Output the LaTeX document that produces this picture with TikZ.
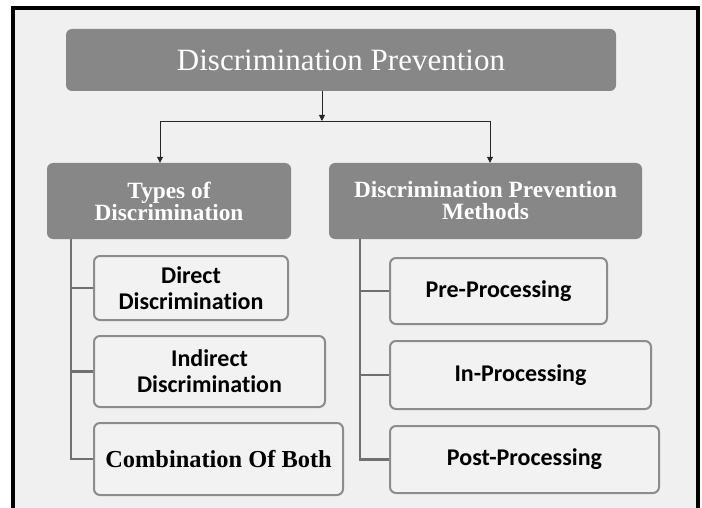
\documentclass[tikz,border=0pt]{standalone}
\usepackage{fontspec}
\setmainfont{Liberation Serif}
\newfontfamily\calfont[Ligatures={NoCommon}]{Carlito}
\usetikzlibrary{arrows.meta}
\definecolor{bgc}{HTML}{F0F0F0}
\definecolor{hdrgray}{HTML}{878787}
\definecolor{boxfill}{HTML}{F2F2F2}
\definecolor{boxline}{HTML}{8C8C8C}
\definecolor{spinec}{HTML}{707070}
\begin{document}
\begin{tikzpicture}[x=1pt,y=-1pt,
  hdr/.style={fill=hdrgray, rounded corners=6pt, text=white, inner sep=0pt, align=center},
  child/.style={draw=boxline, line width=2pt, fill=boxfill, rounded corners=6pt, align=center, inner sep=0pt},
  spine/.style={draw=spinec, line width=2.2pt},
  conn/.style={draw=black!85, line width=0.9pt},
  arr/.style={conn, -{Triangle[length=6pt,width=6pt]}},
  gtext/.style={font=\bfseries\fontsize{23.3}{22}\selectfont},
  ctext/.style={font=\calfont\bfseries\fontsize{24}{26}\selectfont}]
\useasboundingbox (0,0) rectangle (702,508);
\fill[white] (0,0) rectangle (702,508);
\fill[bgc] (13,8) rectangle (698,508);
\draw[line width=4pt] (13,512) -- (13,8) -- (698,8) -- (698,512);

\node[hdr, minimum width=550pt, minimum height=62pt, font=\fontsize{31}{36}\selectfont] (top) at (341,60) {Discrimination Prevention};

\node[hdr, gtext, minimum width=244pt, minimum height=76pt] (L) at (169,201) {Types of\\Discrimination};
\node[hdr, gtext, minimum width=313pt, minimum height=76pt] (R) at (485.5,201) {Discrimination Prevention\\Methods};

\node[child, ctext, minimum width=194pt, minimum height=64pt] (d) at (191,288) {Direct\\Discrimination};
\node[child, ctext, minimum width=231pt, minimum height=71pt] (ind) at (209.5,371.5) {Indirect\\Discrimination};
\node[child, font=\bfseries\fontsize{24.4}{28}\selectfont, minimum width=249pt, minimum height=72pt] (cb) at (218.5,459) {Combination Of Both};

\node[child, ctext, minimum width=217pt, minimum height=66pt] (pre) at (498.5,291) {Pre-Processing};
\node[child, ctext, minimum width=261pt, minimum height=68pt] (in) at (520.5,375) {In-Processing};
\node[child, ctext, minimum width=269pt, minimum height=67pt] (post) at (524.5,459.5) {Post-Processing};

% connectors from top
\coordinate (j) at (322,121);
\coordinate (jl) at (160,121);
\coordinate (jr) at (490,121);
\draw[arr] (top.south -| j) -- (j);
\draw[conn] (jl) -- (jr);
\draw[arr] (jl) -- (jl |- L.north);
\draw[arr] (jr) -- (jr |- R.north);

% left spine
\coordinate (ls) at ([xshift=24pt]L.south west);
\draw[spine] (ls) |- (cb.west);
\draw[spine] (ls |- d.west) -- (d.west);
\draw[spine] (ls |- ind.west) -- (ind.west);

% right spine
\coordinate (rs) at ([xshift=31pt]R.south west);
\draw[spine] (rs) |- (post.west);
\draw[spine] (rs |- pre.west) -- (pre.west);
\draw[spine] (rs |- in.west) -- (in.west);
\end{tikzpicture}
\end{document}
